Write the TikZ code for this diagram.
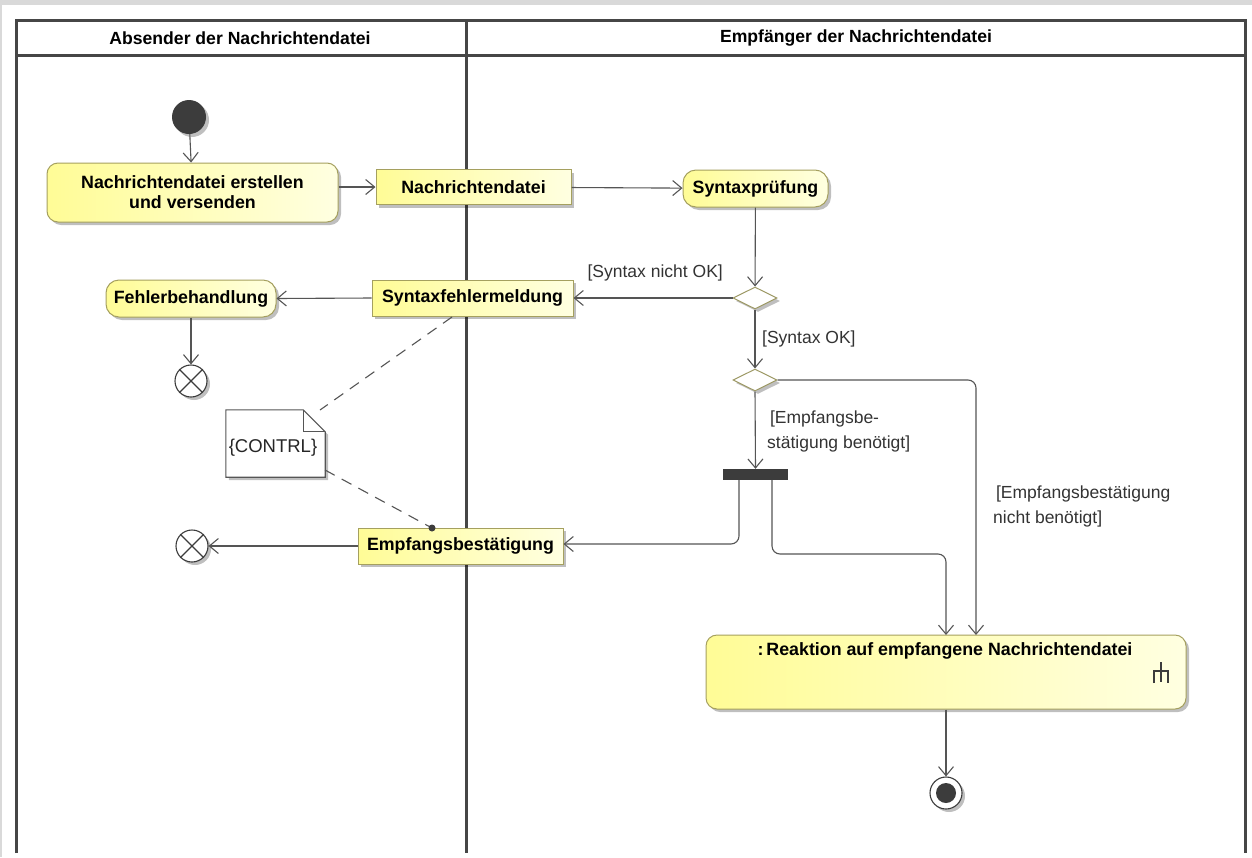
\documentclass[tikz,border=0pt]{standalone}
\usepackage{fontspec}
\setmainfont{Liberation Sans}
\usetikzlibrary{arrows.meta,shapes.geometric,shadows,positioning}
\definecolor{fillL}{RGB}{255,252,150}
\definecolor{fillR}{RGB}{255,255,225}
\definecolor{bord}{RGB}{165,160,95}
\definecolor{edgec}{RGB}{85,85,85}
\definecolor{lanec}{RGB}{70,70,70}
\definecolor{darkn}{RGB}{60,60,60}
\definecolor{stripc}{RGB}{217,217,217}
\tikzset{
  >={Straight Barb[length=9pt,width=15pt,line width=1.1pt]},
  shad/.style={drop shadow={shadow xshift=3pt,shadow yshift=-3pt,fill=black,opacity=0.25}},
  actionbox/.style={draw=bord,line width=1pt,rounded corners=11pt,left color=fillL,right color=fillR,shad,
    inner sep=0pt,align=center,font=\bfseries\fontsize{17.8}{20}\selectfont},
  objbox/.style={draw=bord,line width=1pt,rectangle,left color=fillL,right color=fillR,shad,
    inner sep=0pt,align=center,font=\bfseries\fontsize{17.8}{20}\selectfont},
  flow/.style={draw=edgec,line width=1.1pt,->},
  guard/.style={font=\fontsize{17.5}{25}\selectfont,text=black!80,inner sep=0pt,align=left},
  decis/.style={diamond,aspect=2,draw=bord!80!gray,line width=1pt,fill=white,shad,minimum width=44pt,minimum height=22pt,inner sep=0pt},
  lane/.style={draw=lanec,line width=3pt},
  ffinal/.style={circle,draw=darkn,line width=1.1pt,fill=white,minimum size=32pt,inner sep=0pt,shad},
  notelink/.style={draw=edgec,line width=1.1pt,dash pattern=on 11pt off 8pt},
  hdr/.style={font=\bfseries\fontsize{17.6}{20}\selectfont,inner sep=0pt}
}
\begin{document}
\begin{tikzpicture}[x=1pt,y=-1pt]
\useasboundingbox (0,0) rectangle (1252,857);
\fill[white] (0,0) rectangle (1252,857);
\fill[stripc] (0,0) rectangle (1252,5);
\fill[stripc] (0,0) rectangle (1.5,857);
% swimlanes
\draw[lane] (16,853) -- (16,20) -- (1245,20) -- (1245,853);
\draw[lane] (16,55) -- (1245,55);
\draw[lane] (466,20) -- (466,853);
\node[hdr] (h1) at (240,38) {Absender der Nachrichtendatei};
\node[hdr] (h2) at (856,38) {Empfänger der Nachrichtendatei};
% nodes
\node[circle,fill=darkn,minimum size=34pt,inner sep=0pt,shad] (init) at (189,117) {};
\node[actionbox,minimum width=291pt,minimum height=59pt] (a1) at (192.5,192.5) {Nachrichtendatei erstellen\\und versenden};
\node[objbox,minimum width=195pt,minimum height=35pt] (o1) at (473.5,187) {Nachrichtendatei};
\node[actionbox,minimum width=145pt,minimum height=37pt,rounded corners=13pt] (a2) at (755.5,188.5) {Syntaxprüfung};
\node[decis] (d1) at (755,298) {};
\node[objbox,minimum width=201pt,minimum height=36pt] (o2) at (472.5,298) {Syntaxfehlermeldung};
\node[actionbox,minimum width=170pt,minimum height=37pt,rounded corners=13pt] (a3) at (191,298.5) {Fehlerbehandlung};
\node[ffinal] (ff1) at (191,381) {};
\draw[darkn,line width=1.1pt] (ff1.north west) -- (ff1.south east) (ff1.north east) -- (ff1.south west);
\node[decis] (d2) at (755,380) {};
\node[fill=darkn,minimum width=65pt,minimum height=11pt,inner sep=0pt] (fork) at (755.5,474.5) {};
\node[objbox,minimum width=205pt,minimum height=36pt] (o3) at (460.5,546) {Empfangsbestätigung};
\node[ffinal] (ff2) at (192,546) {};
\draw[darkn,line width=1.1pt] (ff2.north west) -- (ff2.south east) (ff2.north east) -- (ff2.south west);
\node[actionbox,minimum width=480pt,minimum height=74pt] (act) at (946,672) {};
\node[font=\bfseries\fontsize{17.8}{20}\selectfont,inner sep=0pt] (actt) at (945,651) {:\,Reaktion auf empfangene Nachrichtendatei};
\draw[darkn,line width=2pt] (1161,662) -- (1161,682) (1154,683) -- (1154,671) -- (1168,671) -- (1168,683);
\node[circle,draw=darkn,line width=1.1pt,fill=white,minimum size=32pt,inner sep=0pt,shad] (fin) at (946,793) {};
\node[circle,fill=darkn,minimum size=20pt,inner sep=0pt] (finin) at (fin) {};
% note
\node[minimum width=99pt,minimum height=67pt,inner sep=0pt] (note) at (275.5,443.5) {};
\fill[black,opacity=0.25] ([shift={(3pt,-3pt)}]note.north west) -- ([shift={(-19pt,-3pt)}]note.north east) -- ([shift={(3pt,-25pt)}]note.north east) -- ([shift={(3pt,-3pt)}]note.south east) -- ([shift={(3pt,-3pt)}]note.south west) -- cycle;
\draw[edgec,line width=1.1pt,fill=white] (note.north west) -- ([xshift=-22pt]note.north east) -- ([yshift=-22pt]note.north east) -- (note.south east) -- (note.south west) -- cycle;
\draw[edgec,line width=1.1pt] ([xshift=-22pt]note.north east) -- ([shift={(-22pt,-22pt)}]note.north east) -- ([yshift=-22pt]note.north east);
\node[inner sep=0pt,font=\fontsize{18.5}{20}\selectfont,text=black!85] (notet) at (273,448) {\{CONTRL\}};
\coordinate (n1) at (452,317);
\coordinate (n2) at (320,410);
\coordinate (n3) at (325,470);
\coordinate (n4) at (432,528);
\draw[notelink] (n1) -- (n2);
\draw[notelink] (n3) -- (n4);
\fill[darkn] (n4) circle (3.5pt);
% flows
\draw[flow] (init) -- (a1);
\draw[flow] (a1.east |- o1) -- (o1.west);
\draw[flow] (o1) -- (a2);
\draw[flow] (a2) -- (d1);
\draw[flow] (d1.west) -- (o2.east);
\node[guard,anchor=east] (g1) at (723,273) {[Syntax nicht OK]};
\draw[flow] (o2.west) -- (a3.east);
\draw[flow] (a3) -- (ff1);
\draw[flow] (d1.south) -- (d2.north);
\node[guard,anchor=west] (g2) at (762,339) {[Syntax OK]};
\draw[flow] (d2.south) -- (fork.north);
\node[guard,anchor=north west] (g3) at (767,411) {\,[Empfangsbe-\\stätigung benötigt]};
\draw[flow,rounded corners=8pt] (d2.east) -- (976,380) -- (976,635);
\node[guard,anchor=north west] (g4) at (993,486) {\,[Empfangsbestätigung\\nicht benötigt]};
\draw[flow,rounded corners=8pt] (739,480) -- (739,544) -- (o3.east |- 0,544);
\draw[flow,rounded corners=8pt] (772,480) -- (772,554) -- (946,554) -- (946,635);
\draw[flow] (act) -- (fin);
\draw[flow] (o3.west) -- (ff2.east);
\end{tikzpicture}
\end{document}
